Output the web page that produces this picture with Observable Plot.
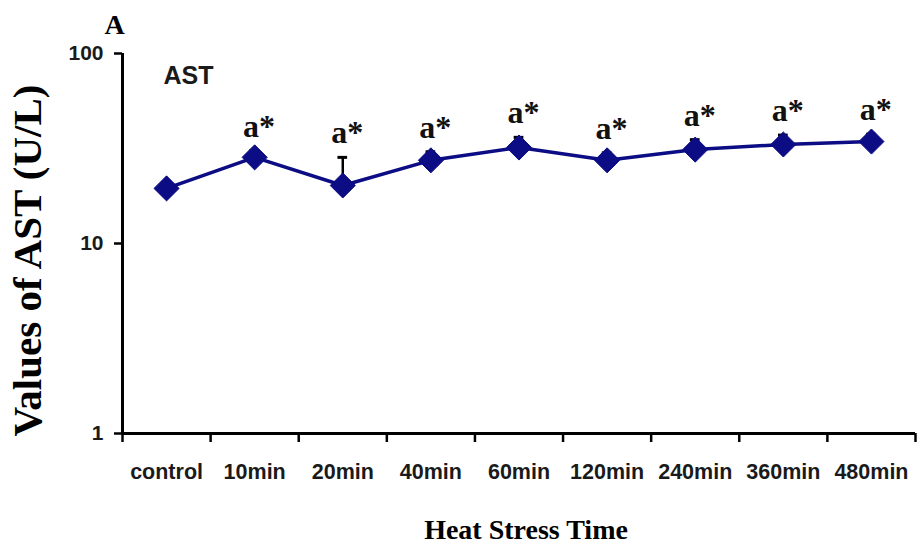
<!DOCTYPE html>
<html>
<head>
<meta charset="utf-8">
<script src="https://cdn.jsdelivr.net/npm/d3@7"></script>
<script src="https://cdn.jsdelivr.net/npm/@observablehq/plot@0.6"></script>
<style>
  html, body { margin: 0; padding: 0; background: #fff; }
  #chart svg { display: block; }
</style>
</head>
<body>
<div id="chart"></div>
<script>
// Data
const categories = ["control", "10min", "20min", "40min", "60min", "120min", "240min", "360min", "480min"];
const astValues  = [19.5, 28.4, 20.2, 27.4, 32.0, 27.4, 31.2, 33.2, 34.4];
const astErrors  = [1.0, 2.4, 8.2, 3.0, 4.2, 2.6, 4.0, 4.0, 3.2];
const sigLabels  = ["", "a*", "a*", "a*", "a*", "a*", "a*", "a*", "a*"];
const yTicks     = [1, 10, 100];

const data = categories.map((c, i) => ({
  i, cat: c, v: astValues[i], e: astErrors[i], top: astValues[i] + astErrors[i], lab: sigLabels[i]
}));

const navy = "#0c0c84";
const sans = "'Liberation Sans', Arial, sans-serif";
const serif = "'Liberation Serif', 'Times New Roman', serif";
const bounds = d3.range(-0.5, categories.length, 1);

const chart = Plot.plot({
  width: 917,
  height: 546,
  marginLeft: 122,
  marginRight: 2,
  marginTop: 53,
  marginBottom: 113,
  style: { background: "#fff", overflow: "visible" },
  x: { type: "linear", domain: [-0.5, categories.length - 0.5] },
  y: { type: "log", domain: [1, 100] },
  marks: [
    // axis lines
    Plot.ruleY([1], { stroke: "#000", strokeWidth: 3 }),
    Plot.ruleX([-0.5], { stroke: "#000", strokeWidth: 3 }),
    // y axis
    Plot.axisY({
      ticks: yTicks, tickSize: 8, tickPadding: 11, strokeWidth: 2.5,
      tickFormat: d => String(d), fontSize: 21, fontWeight: "bold",
      fontFamily: sans, fill: "#1a1a1a", label: null
    }),
    // x axis tick marks at category boundaries
    Plot.axisX({
      ticks: bounds, tickSize: 9, strokeWidth: 2.5, tickFormat: () => "", label: null
    }),
    // x axis category labels
    Plot.axisX({
      ticks: d3.range(categories.length), tickSize: 0, tickPadding: 30,
      tickFormat: i => categories[i], fontSize: 21.5, fontWeight: "bold",
      fontFamily: sans, fill: "#1a1a1a", label: null
    }),
    // error bars
    Plot.ruleX(data.filter(d => d.i > 0), { x: "i", y1: "v", y2: "top", stroke: "#000", strokeWidth: 2.5 }),
    Plot.ruleY(data.filter(d => d.i > 0), { y: "top", x1: d => d.i - 0.055, x2: d => d.i + 0.055, stroke: "#000", strokeWidth: 3 }),
    // series
    Plot.line(data, { x: "i", y: "v", stroke: navy, strokeWidth: 3.5 }),
    Plot.dot(data, { x: "i", y: "v", symbol: "diamond2", r: 11.3, fill: navy, stroke: navy, strokeWidth: 1 }),
    // significance labels
    Plot.text(data.filter(d => d.lab), {
      x: d => d.i + 0.05, y: "top", text: "lab", dy: -14, lineAnchor: "bottom",
      fontSize: 32, fontWeight: "bold", fontFamily: serif, fill: "#111"
    }),
    // panel letter
    Plot.text(["A"], {
      frameAnchor: "top-left", textAnchor: "start", lineAnchor: "bottom",
      dx: -18, dy: -20, fontSize: 28, fontWeight: "bold", fontFamily: serif, fill: "#000"
    }),
    // series name
    Plot.text(["AST"], {
      frameAnchor: "top-left", textAnchor: "start", lineAnchor: "bottom",
      dx: 41, dy: 30, fontSize: 25, fontWeight: "bold", fontFamily: sans, fill: "#1a1a1a"
    }),
    // y axis title
    Plot.text(["Values of AST (U/L)"], {
      frameAnchor: "left", rotate: -90, textAnchor: "middle", lineAnchor: "middle",
      dx: -95, dy: 17,
      fontSize: 41, fontWeight: "bold", fontFamily: serif, fill: "#000"
    }),
    // x axis title
    Plot.text(["Heat Stress Time"], {
      frameAnchor: "bottom", textAnchor: "middle", lineAnchor: "bottom", dx: 7, dy: 105,
      fontSize: 28, fontWeight: "bold", fontFamily: serif, fill: "#000"
    })
  ]
});

document.getElementById("chart").appendChild(chart);
</script>
</body>
</html>
